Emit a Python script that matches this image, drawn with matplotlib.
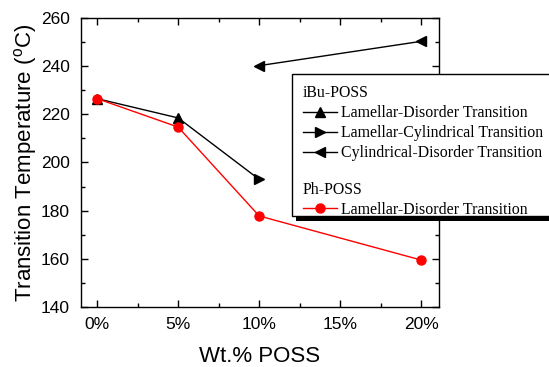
import matplotlib
matplotlib.use("Agg")
import matplotlib.pyplot as plt
from matplotlib.lines import Line2D
from matplotlib.patches import Rectangle
from matplotlib.ticker import MultipleLocator, FuncFormatter

plt.rcParams['font.family'] = ['Liberation Sans', 'DejaVu Sans']
plt.rcParams['mathtext.fontset'] = 'custom'
plt.rcParams['mathtext.rm'] = 'Liberation Sans'
plt.rcParams['mathtext.it'] = 'Liberation Sans'

# iBu-POSS series
ibu_ld_x = [0, 5]
ibu_ld_y = [226.5, 218.5]
ibu_lc_x = [10]
ibu_lc_y = [193]
ibu_cd_x = [10, 20]
ibu_cd_y = [240.2, 250.3]
# Ph-POSS series
ph_ld_x = [0, 5, 10, 20]
ph_ld_y = [226.5, 214.7, 177.8, 159.5]

xticks = [0, 5, 10, 15, 20]
yticks = [140, 160, 180, 200, 220, 240, 260]

W, H = 549, 367
fig = plt.figure(figsize=(W / 100, H / 100), dpi=100)
ax = fig.add_axes([0.1475, 0.1635, 0.652, 0.7875])

# connecting line for lamellar transitions (iBu)
ax.plot(ibu_ld_x + ibu_lc_x, ibu_ld_y + ibu_lc_y, color='black', lw=1, zorder=2)
ax.plot(ibu_ld_x, ibu_ld_y, color='black', lw=0, marker='^', ms=7, zorder=3)
ax.plot(ibu_lc_x, ibu_lc_y, color='black', lw=0, marker='>', ms=7, zorder=3)
ax.plot(ibu_cd_x, ibu_cd_y, color='black', lw=1, marker='<', ms=7, zorder=3)
ax.plot(ph_ld_x, ph_ld_y, color='red', lw=1, marker='o', ms=6.5, zorder=4)

ax.set_xlim(-1, 21.1)
ax.set_ylim(140, 260)
ax.set_xticks(xticks)
ax.set_yticks(yticks)
ax.xaxis.set_minor_locator(MultipleLocator(2.5))
ax.yaxis.set_minor_locator(MultipleLocator(10))
ax.xaxis.set_major_formatter(FuncFormatter(lambda v, p: f"{v:.0f}%"))
ax.tick_params(which='both', direction='in', top=True, right=True, labelsize=12.5, width=1)
ax.tick_params(which='major', length=5)
ax.tick_params(which='minor', length=3)
ax.tick_params(axis='x', pad=7)
ax.tick_params(axis='y', pad=8)
for s in ax.spines.values():
    s.set_linewidth(1)

ax.set_xlabel('Wt.% POSS', fontsize=16, labelpad=10)
ax.set_ylabel('Transition Temperature ($^o$C)', fontsize=16, labelpad=1)

# legend frame with shadow (drawn as figure patches)
fx0, fy_top, fy_bot = 291.5, 74, 215.7
shadow = Rectangle(((fx0 + 4) / W, 1 - (fy_bot + 5) / H), (W - fx0 + 20) / W, (fy_bot - fy_top) / H,
                   transform=fig.transFigure, facecolor='black', edgecolor='none', zorder=3)
frame = Rectangle((fx0 / W, 1 - fy_bot / H), (W - fx0 + 20) / W, (fy_bot - fy_top) / H,
                  transform=fig.transFigure, facecolor='white', edgecolor='black', lw=1, zorder=4)
fig.patches.extend([shadow, frame])

blank = Line2D([], [], lw=0)
handles = [
    blank,
    Line2D([], [], color='black', lw=1, marker='^', ms=7),
    Line2D([], [], color='black', lw=1, marker='>', ms=7),
    Line2D([], [], color='black', lw=1, marker='<', ms=7),
    blank,
    blank,
    Line2D([], [], color='red', lw=1, marker='o', ms=6.5),
]
labels = ['iBu-POSS', 'Lamellar-Disorder Transition', 'Lamellar-Cylindrical Transition',
          'Cylindrical-Disorder Transition', ' ', 'Ph-POSS', 'Lamellar-Disorder Transition']
leg = fig.legend(handles, labels, loc='upper left', bbox_to_anchor=(302.5 / W, 1 - 85 / H),
                 bbox_transform=fig.transFigure, borderaxespad=0,
                 prop={'family': 'Liberation Serif', 'size': 11.4},
                 frameon=False,
                 handlelength=2.15, handletextpad=0.3, labelspacing=0.26,
                 borderpad=0, numpoints=1)
leg.set_zorder(5)
leg.get_texts()[4].set_fontsize(9.5)

# make group titles start at the handle column
col = leg._legend_handle_box.get_children()[0]
rows = col.get_children()
for i in (0, 4, 5):
    hp = rows[i]
    da = hp.get_children()[0]
    da.width = 0
    da.height = 0
    hp.sep = 0

fig.savefig('out.png', dpi=100)
